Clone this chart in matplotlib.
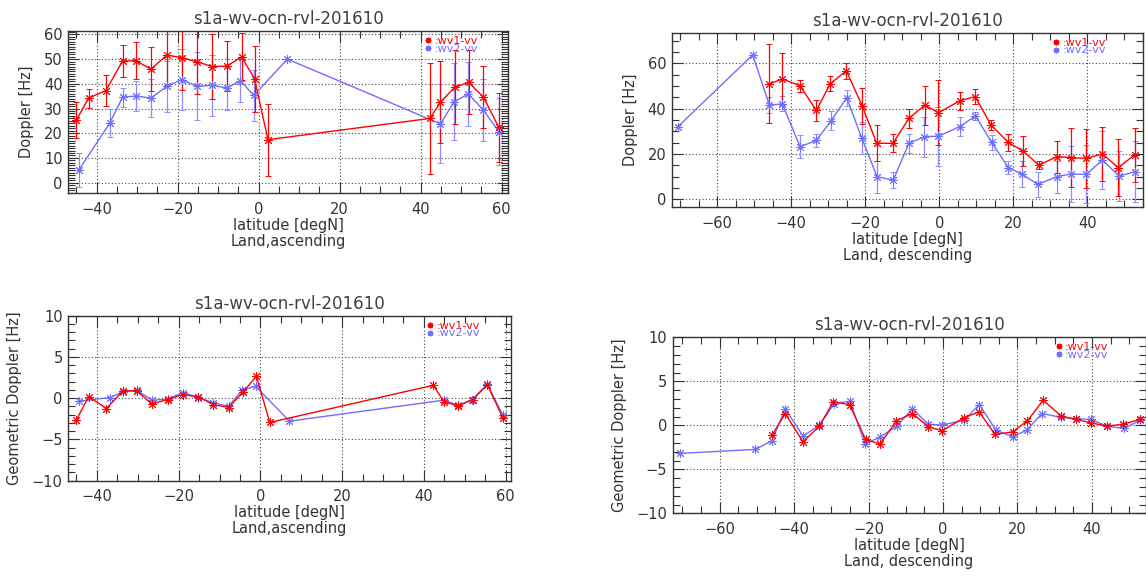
import numpy as np
import matplotlib
matplotlib.use("Agg")
import matplotlib.pyplot as plt
from matplotlib.lines import Line2D
from matplotlib.ticker import MultipleLocator

nan = np.nan

# ===== ascending pass =====
asc_lat_wv1 = [-45.0, -42.0, -37.7, -33.6, -30.2, -26.6, -22.7, -19.0, -15.2, -11.5,
               -7.8, -4.2, -1.0, 2.3, 42.3, 44.9, 48.4, 51.9, 55.5, 59.3]
asc_dop_wv1 = [25.4, 34.2, 37.3, 49.3, 49.3, 45.9, 51.6, 50.6, 48.9, 47.0,
               47.2, 50.9, 42.0, 17.4, 26.0, 32.6, 38.6, 40.6, 34.6, 22.4]
asc_err_wv1 = [7.2, 3.8, 6.2, 6.4, 7.5, 9.0, 12.0, 13.0, 13.0, 13.0,
               10.0, 9.5, 13.5, 14.5, 22.3, 16.5, 15.0, 13.0, 12.5, 14.0]
asc_geo_wv1 = [-2.6, 0.2, -1.25, 0.9, 0.9, -0.7, -0.16, 0.44, 0.16, -0.77,
               -1.13, 0.77, 2.66, -2.94, 1.57, -0.44, -0.93, -0.16, 1.65, -2.38]

asc_lat_wv2 = [-44.4, -36.8, -33.6, -30.2, -26.6, -22.7, -19.0, -15.2, -11.5, -7.8,
               -4.5, -1.2, 7.1, 44.9, 48.3, 51.8, 55.5, 59.3]
asc_dop_wv2 = [5.1, 24.0, 34.6, 35.1, 34.2, 39.0, 41.7, 39.0, 39.4, 38.3,
               41.3, 35.3, 50.0, 23.8, 32.8, 35.9, 29.4, 20.7]
asc_err_wv2 = [7.0, 5.7, 3.8, 6.0, 7.7, 10.2, 12.3, 13.8, 12.3, 8.7,
               8.6, 10.2, nan, 16.0, 15.5, 12.8, 12.5, 13.7]
asc_geo_wv2 = [-0.36, 0.08, 0.77, 0.97, -0.24, -0.12, 0.69, 0.08, -0.56, -0.97,
               0.97, 1.45, -2.78, -0.24, -0.85, -0.24, 1.69, -2.06]

# ===== descending pass =====
desc_lat_wv1 = [-45.9, -42.4, -37.6, -33.2, -29.5, -25.1, -20.8, -16.9, -12.5, -8.2,
                -3.9, -0.2, 5.6, 9.7, 14.0, 18.7, 22.7, 26.9, 31.8, 35.7,
                39.8, 44.1, 48.4, 52.8]
desc_dop_wv1 = [50.9, 53.1, 50.1, 39.2, 50.9, 56.7, 41.2, 24.8, 24.7, 35.7,
                41.6, 38.2, 43.5, 45.3, 32.8, 25.1, 21.3, 15.1, 18.8, 18.4,
                18.1, 20.0, 14.0, 19.6]
desc_err_wv1 = [17.4, 11.6, 2.6, 4.8, 3.3, 3.6, 8.0, 8.0, 4.0, 4.3,
                8.6, 14.4, 4.0, 3.2, 2.0, 3.7, 6.6, 1.8, 7.0, 12.9,
                13.0, 12.0, 12.7, 12.0]
desc_geo_wv1 = [-1.11, 1.34, -1.87, -0.1, 2.66, 2.36, -1.6, -2.13, 0.51, 1.34,
                -0.17, -0.62, 0.85, 1.53, -1.04, -0.74, 0.51, 2.85, 1.04, 0.66,
                0.28, -0.1, 0.13, 0.66]

desc_lat_wv2 = [-70.6, -50.4, -45.9, -42.4, -37.6, -33.2, -29.2, -25.0, -20.9, -16.8,
                -12.4, -8.2, -4.0, -0.2, 5.6, 9.8, 14.2, 18.7, 22.5, 26.6,
                31.8, 35.6, 39.8, 44.1, 48.6, 53.0]
desc_dop_wv2 = [32.1, 63.7, 41.6, 42.1, 23.2, 26.0, 34.7, 44.8, 26.9, 10.0,
                8.5, 24.7, 27.6, 27.9, 32.1, 36.8, 25.1, 14.0, 11.0, 6.6,
                10.0, 11.2, 11.0, 17.4, 10.3, 12.2]
desc_err_wv2 = [nan, nan, 3.5, 3.3, 5.0, 3.0, 4.3, 3.5, 7.0, 7.1,
                3.5, 4.3, 8.7, 13.0, 4.2, 1.9, 3.5, 2.7, 5.7, 5.5,
                7.1, 12.3, 12.8, 12.7, 11.0, 13.5]
desc_geo_wv2 = [-3.19, -2.74, -1.75, 1.9, -1.23, 0.02, 2.47, 2.74, -2.13, -1.3,
                -0.1, 1.9, 0.13, 0.02, 0.58, 2.36, -0.55, -1.3, -0.55, 1.34,
                0.89, 0.77, 0.66, -0.1, -0.36, 0.58]

TITLE = "s1a-wv-ocn-rvl-201610"
RED = "#ff0000"
BLUE = "#6e6eff"
BLUE_ERR = "#8c8cff"
INK = "#333333"
STAR = (8, 2, 0)

W, H = 1146, 579
fig = plt.figure(figsize=(W / 100, H / 100), dpi=100)


def box(l, t, r, b):
    return [l / W, 1 - b / H, (r - l) / W, (b - t) / H]


def style(ax, xlim, ylim, xmaj, ymaj, ymin, ylabel, xsub):
    ax.set_xlim(*xlim)
    ax.set_ylim(*ylim)
    ax.xaxis.set_major_locator(MultipleLocator(xmaj))
    ax.xaxis.set_minor_locator(MultipleLocator(5))
    ax.yaxis.set_major_locator(MultipleLocator(ymaj))
    ax.yaxis.set_minor_locator(MultipleLocator(ymin))
    ax.tick_params(which="both", direction="in", top=True, right=True,
                   color=INK, labelcolor=INK, labelsize=10.5, width=0.8)
    ax.tick_params(which="major", length=8, pad=6)
    ax.tick_params(which="minor", length=5)
    ax.tick_params(axis="y", which="major", pad=4)
    for s in ax.spines.values():
        s.set_color(INK)
        s.set_linewidth(1.0)
    ax.grid(True, which="major", color="#444444", linestyle=(0, (1, 2)), lw=0.8)
    ax.set_title(TITLE, fontsize=12, color="#404040", pad=5)
    ax.set_ylabel(ylabel, fontsize=10.5, color=INK, labelpad=7)
    ax.set_xlabel("latitude [degN]\n" + xsub, fontsize=10.5, color=INK,
                  labelpad=1, linespacing=1.05)
    handles = [Line2D([], [], color=RED, marker=STAR, ls="none", markersize=4),
               Line2D([], [], color=BLUE, marker=STAR, ls="none", markersize=4)]
    ax.legend(handles, [":wv1-vv", ":wv2-vv"], loc="upper left",
              bbox_to_anchor=(0.795, 1.01), frameon=False, fontsize=8,
              labelcolor=[RED, BLUE], handlelength=0.6, handletextpad=0.3,
              borderpad=0.1, labelspacing=-0.2)


def doppler(ax, lat1, v1, e1, lat2, v2, e2):
    ax.errorbar(lat2, v2, yerr=e2, color=BLUE, ecolor=BLUE_ERR, lw=1.0,
                elinewidth=0.9, capsize=2.5, marker=STAR, markersize=6.5, mew=0.7)
    ax.errorbar(lat1, v1, yerr=e1, color=RED, ecolor=RED, lw=1.0,
                elinewidth=0.9, capsize=2.5, marker=STAR, markersize=6.5, mew=0.7)


def geometric(ax, lat1, g1, lat2, g2):
    ax.plot(lat2, g2, color=BLUE, lw=1.0, marker=STAR, markersize=6.5, mew=0.7)
    ax.plot(lat1, g1, color=RED, lw=1.0, marker=STAR, markersize=6.5, mew=0.7)


# ---- top-left: ascending Doppler ----
ax1 = fig.add_axes(box(68.3, 30.7, 507.7, 193.3))
doppler(ax1, asc_lat_wv1, asc_dop_wv1, asc_err_wv1, asc_lat_wv2, asc_dop_wv2, asc_err_wv2)
style(ax1, (-47, 61.5), (-4.3, 61.5), 20, 10, 1, "Doppler [Hz]", "Land,ascending")

# ---- top-right: descending Doppler ----
ax2 = fig.add_axes(box(671.7, 32.7, 1142.7, 207.3))
doppler(ax2, desc_lat_wv1, desc_dop_wv1, desc_err_wv1, desc_lat_wv2, desc_dop_wv2, desc_err_wv2)
style(ax2, (-72.3, 55), (-3.5, 73.5), 20, 20, 5, "Doppler [Hz]", "Land, descending")

# ---- bottom-left: ascending geometric Doppler ----
ax3 = fig.add_axes(box(68.3, 315.7, 511, 480.7))
geometric(ax3, asc_lat_wv1, asc_geo_wv1, asc_lat_wv2, asc_geo_wv2)
style(ax3, (-47, 61.3), (-10, 10), 20, 5, 1, "Geometric Doppler [Hz]", "Land,ascending")

# ---- bottom-right: descending geometric Doppler ----
ax4 = fig.add_axes(box(672.7, 337.3, 1145.5, 513.3))
geometric(ax4, desc_lat_wv1, desc_geo_wv1, desc_lat_wv2, desc_geo_wv2)
style(ax4, (-72.6, 54.4), (-10, 10), 20, 5, 1, "Geometric Doppler [Hz]", "Land, descending")

fig.savefig("out.png", dpi=100)
